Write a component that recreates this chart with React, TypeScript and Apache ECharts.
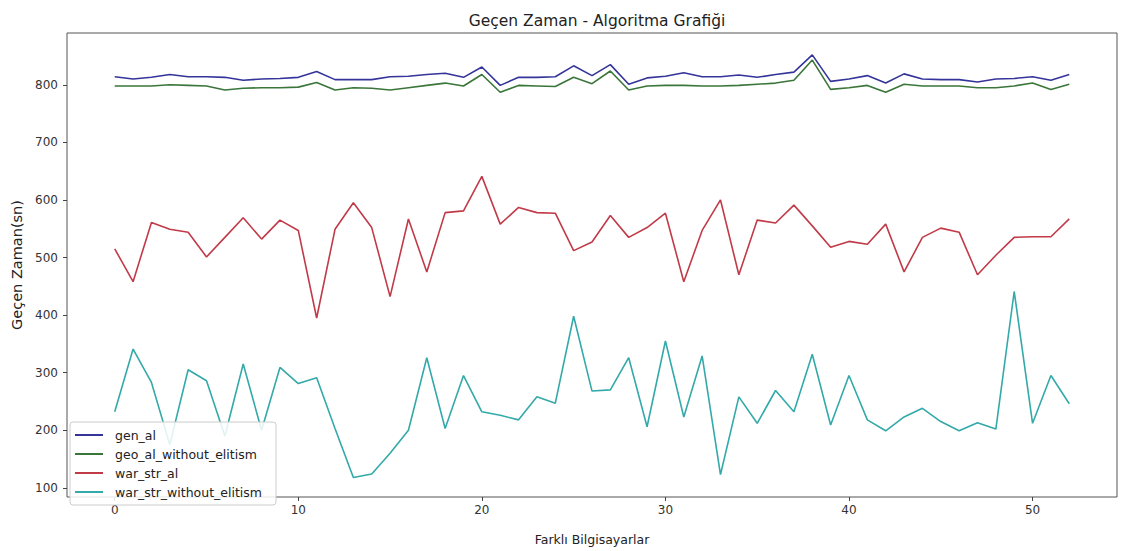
import { useEffect, useRef } from "react";
import * as echarts from "echarts";

// Computer index on the x axis (0 … 52)
const computers = Array.from({ length: 53 }, (_, i) => i);

const genAl = [
  814, 810, 813, 818, 814, 814, 813, 808, 810, 811, 813, 823, 809, 809, 809, 814,
  815, 818, 820, 813, 831, 799, 813, 813, 814, 833, 816, 835, 801, 812, 815, 821,
  814, 814, 817, 813, 818, 822, 852, 806, 810, 816, 803, 819, 810, 809, 809, 805,
  810, 811, 814, 808, 818,
];

const geoAlWithoutElitism = [
  798, 798, 798, 800, 799, 798, 791, 794, 795, 795, 796, 804, 791, 795, 794, 791,
  795, 799, 803, 798, 818, 787, 799, 798, 797, 813, 802, 824, 791, 798, 799, 799,
  798, 798, 799, 801, 803, 808, 843, 792, 795, 799, 787, 801, 798, 798, 798, 795,
  795, 798, 803, 792, 801,
];

const warStrAl = [
  515, 458, 561, 549, 544, 501, 535, 569, 532, 565, 547, 395, 549, 595, 552, 432,
  567, 475, 578, 581, 641, 558, 587, 578, 577, 512, 527, 573, 535, 552, 577, 458,
  547, 600, 470, 565, 560, 591, 555, 518, 528, 523, 558, 475, 535, 551, 544, 470,
  504, 535, 536, 536, 567,
];

const warStrWithoutElitism = [
  232, 341, 283, 175, 305, 286, 190, 315, 200, 309, 281, 291, 203, 118, 124, 160,
  200, 326, 203, 295, 232, 226, 218, 258, 247, 398, 268, 270, 326, 206, 355, 223,
  329, 123, 258, 212, 269, 232, 332, 209, 295, 218, 199, 223, 238, 215, 199, 213,
  202, 441, 212, 295, 246,
];

const seriesNames = [
  "gen_al",
  "geo_al_without_elitism",
  "war_str_al",
  "war_str_without_elitism",
];
const seriesColors = ["#34349a", "#3a763a", "#c03a48", "#33a9a9"];

const xTicks = [0, 10, 20, 30, 40, 50];
const yTicks = [100, 200, 300, 400, 500, 600, 700, 800];

const titleText = "Geçen Zaman - Algoritma Grafiği";
const xName = "Farklı Bilgisayarlar";
const yName = "Geçen Zaman(sn)";

export default function App() {
  const ref = useRef<HTMLDivElement>(null);

  useEffect(() => {
    if (!ref.current) return;
    const chart = echarts.init(ref.current, null, { renderer: "svg" });
    const font = "'DejaVu Sans', 'Liberation Sans', sans-serif";
    const values = [genAl, geoAlWithoutElitism, warStrAl, warStrWithoutElitism];

    const series = values.map((vals, k) => ({
      type: "line",
      name: seriesNames[k],
      data: computers.map((x, i) => [x, vals[i]]),
      symbol: "none",
      showSymbol: false,
      lineStyle: { color: seriesColors[k], width: 1.6 },
      itemStyle: { color: seriesColors[k] },
      emphasis: { disabled: true },
      z: 2,
    }));

    chart.setOption({
      animation: false,
      backgroundColor: "#ffffff",
      textStyle: { fontFamily: font },
      title: {
        text: titleText,
        left: 592,
        top: 8,
        textAlign: "center",
        textStyle: { fontFamily: font, fontSize: 15.5, fontWeight: "normal", color: "#222" },
      },
      grid: {
        left: 67,
        right: 5,
        top: 33,
        bottom: 41,
        show: true,
        borderColor: "#555",
        borderWidth: 1,
        backgroundColor: "transparent",
      },
      legend: {
        orient: "vertical",
        left: 70,
        top: 422,
        z: 10,
        data: seriesNames,
        icon: "rect",
        itemWidth: 28,
        itemHeight: 2,
        itemGap: 5,
        padding: [6, 14, 6, 5],
        backgroundColor: "rgba(255,255,255,0.85)",
        borderColor: "#cccccc",
        borderWidth: 1,
        borderRadius: 3,
        textStyle: {
          fontFamily: font,
          fontSize: 12.5,
          color: "#222",
          lineHeight: 14,
          padding: [0, 0, 0, 7],
        },
      },
      xAxis: {
        type: "value",
        min: -2.6,
        max: 54.6,
        name: xName,
        nameLocation: "middle",
        nameGap: 36,
        nameTextStyle: { fontFamily: font, fontSize: 12.5, color: "#222" },
        axisLine: { show: false, onZero: false },
        axisTick: {
          show: true,
          inside: false,
          length: 4,
          customValues: xTicks,
          lineStyle: { color: "#444" },
        },
        axisLabel: {
          customValues: xTicks,
          margin: 7,
          fontFamily: font,
          fontSize: 12,
          color: "#333",
        },
        splitLine: { show: false },
      },
      yAxis: {
        type: "value",
        min: 84,
        max: 890,
        name: yName,
        nameLocation: "middle",
        nameGap: 42,
        nameRotate: 90,
        nameTextStyle: { fontFamily: font, fontSize: 14.5, color: "#222" },
        axisLine: { show: false, onZero: false },
        axisTick: {
          show: true,
          inside: false,
          length: 4,
          customValues: yTicks,
          lineStyle: { color: "#444" },
        },
        axisLabel: {
          customValues: yTicks,
          margin: 9,
          fontFamily: font,
          fontSize: 12,
          color: "#333",
        },
        splitLine: { show: false },
      },
      series,
    });

    return () => chart.dispose();
  }, []);

  return (
    <div
      ref={ref}
      style={{ position: "fixed", left: 0, top: 0, width: 1122, height: 551, background: "#fff" }}
    />
  );
}
